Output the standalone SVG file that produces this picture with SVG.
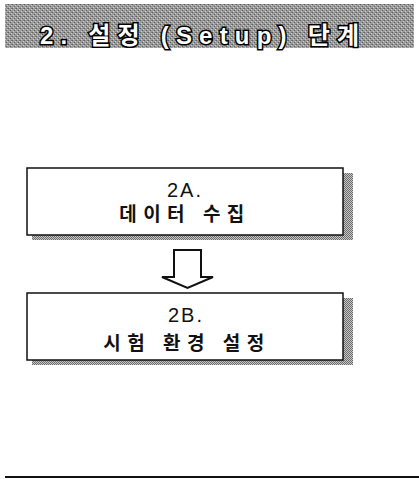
<svg xmlns="http://www.w3.org/2000/svg" width="419" height="479" viewBox="0 0 419 479">
<defs>
<pattern id="dither" width="4" height="4" patternUnits="userSpaceOnUse">
<rect width="4" height="4" fill="#9c9c9c"/>
<rect x="0" y="0" width="1" height="1" fill="#5e5e5e"/>
<rect x="2" y="2" width="1" height="1" fill="#5e5e5e"/>
<rect x="3" y="0" width="1" height="1" fill="#7a7a7a"/>
<rect x="1" y="3" width="1" height="1" fill="#cfcfcf"/>
<rect x="3" y="1" width="1" height="1" fill="#cfcfcf"/>
</pattern>
<pattern id="shade" width="2" height="2" patternUnits="userSpaceOnUse">
<rect width="2" height="2" fill="#c8c8c8"/>
<rect x="0" y="0" width="1" height="1" fill="#6a6a6a"/>
<rect x="1" y="1" width="1" height="1" fill="#6a6a6a"/>
</pattern>
</defs>
<style>
.box{fill:#fff;stroke:#111;stroke-width:1.5}
.shadow{fill:url(#shade)}
.lbl{font-family:"Liberation Sans","Noto Sans CJK KR",sans-serif;fill:#111;text-anchor:middle}
.num{font-size:20px;letter-spacing:2px}
.kor{font-size:19px;font-weight:bold;letter-spacing:6.5px}
.title{font-family:"Liberation Sans","Noto Sans CJK KR",sans-serif;font-size:24px;font-weight:bold;fill:#fff;stroke:#000;stroke-width:3;paint-order:stroke;letter-spacing:7.2px}
</style>
<g id="header">
<rect x="5" y="4" width="409" height="44" fill="url(#dither)"/>
<text class="title" x="40" y="44">2. 설정 (Setup) 단계</text>
</g>
<g id="node-2a">
<rect class="shadow" x="32" y="173" width="321" height="67"/>
<rect class="box" x="27" y="168" width="316" height="67"/>
<text class="lbl num" x="185" y="197">2A.</text>
<text class="lbl kor" x="185" y="221">데이터 수집</text>
</g>
<g id="node-2b">
<rect class="shadow" x="32" y="298" width="321" height="67"/>
<rect class="box" x="27" y="293" width="316" height="67"/>
<text class="lbl num" x="186" y="322">2B.</text>
<text class="lbl kor" x="187" y="350">시험 환경 설정</text>
</g>
<g id="connectors">
<polygon points="174,250 201,250 201,277 213,277 187.5,288 162,277 174,277" fill="#fff" stroke="#111" stroke-width="2" stroke-linejoin="miter"/>
</g>
<line x1="5" y1="477" x2="419" y2="477" stroke="#111" stroke-width="2"/>
</svg>
